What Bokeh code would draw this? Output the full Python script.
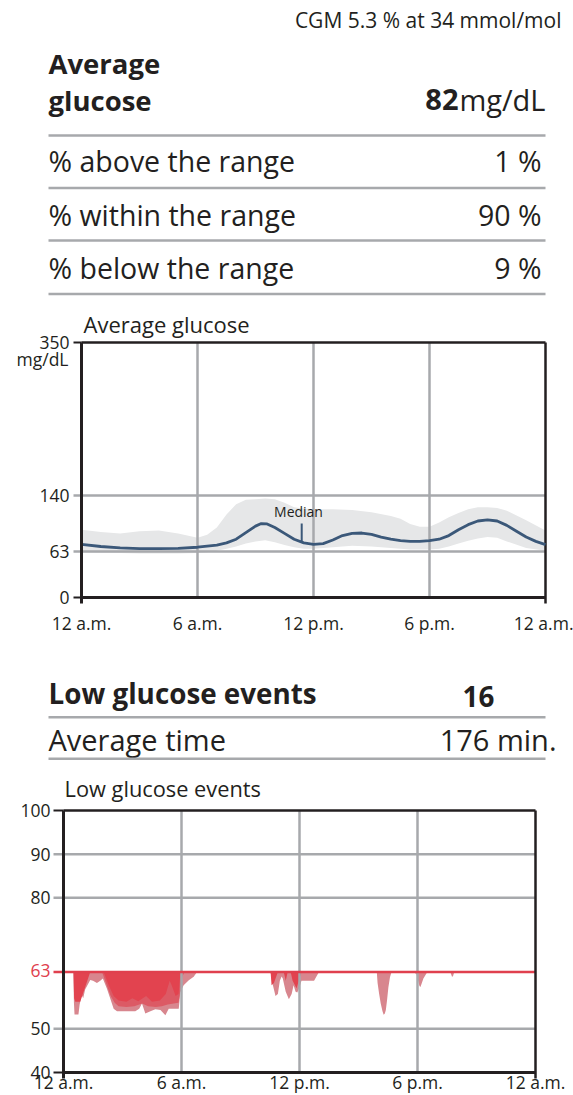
from bokeh.plotting import figure
from bokeh.models import Range1d, FixedTicker, LinearAxis
from bokeh.layouts import column
from bokeh.core.properties import value
from bokeh.embed import file_html
from bokeh.resources import INLINE

# ---------------- data ----------------
gmi_text = "CGM 5.3 % at 34 mmol/mol"
avg_glucose = 82
range_labels = ["% above the range", "% within the range", "% below the range"]
range_pcts = [1, 90, 9]
low_event_count = 16
low_avg_minutes = 176

hour_ticks = [0, 6, 12, 18, 24]
hour_labels = ["12 a.m.", "6 a.m.", "12 p.m.", "6 p.m.", "12 a.m."]
grid_hours = [6, 12, 18]

glucose_ticks = [0, 63, 140, 350]
glucose_grid = [63, 140]
glucose_ends = [0, 350]

band_hours = [0, 1, 2, 3, 4, 5, 6, 6.5, 7, 7.5, 8, 8.5, 9, 9.5, 10, 10.5, 11, 11.5, 12,
              13, 14, 15, 16, 16.5, 17, 17.5, 18, 18.5, 19, 19.5, 20, 20.5, 21, 21.5, 22, 23, 24]
band_high = [93, 90, 88, 91, 92, 88, 82, 86, 96, 114, 128, 134, 135, 136, 135, 130, 124, 122, 121,
             121, 120, 117, 112, 108, 101, 97, 97, 103, 110, 116, 121, 124, 124, 123, 119, 106, 92]
band_low = [62, 61.5, 61, 60.5, 60.5, 60.5, 61, 62, 64, 67, 70, 74, 77, 78.5, 76, 72, 69, 67, 67,
            69, 71, 70, 68, 67, 66, 66, 66, 67, 70, 74, 78, 81, 83, 82, 77, 68, 64]

median_hours = [0, 1, 2, 3, 4, 5, 6, 7, 7.5, 8, 8.5, 9, 9.3, 9.6, 10, 10.5, 11, 11.5, 12,
                12.5, 13, 13.5, 14, 14.5, 15, 15.5, 16, 16.5, 17, 17.5, 18, 18.5, 19, 19.5,
                20, 20.5, 21, 21.5, 22, 22.5, 23, 23.5, 24]
median_vals = [73, 70, 68, 67, 67, 67.5, 69, 72, 75, 80, 89, 98, 101.5, 101, 96, 88, 80, 75, 73,
               74, 79, 85, 88, 88.5, 86.5, 83, 80, 78, 77, 77, 78, 80, 85, 93,
               100, 105, 106.5, 105, 99, 91, 83, 77, 72.5]
median_marker_hour = 11.39

low_limit = 63
low_ticks = [40, 50, 80, 90, 100]
low_grid = [50, 80, 90]
low_ends = [40, 100]

light_hours = [0, 0.50, 0.53, 0.56, 0.76, 0.82, 0.92, 1.0, 1.1, 1.36, 1.5, 1.7, 1.87, 2.0, 2.21, 2.38,
               2.55, 2.72, 3.65, 3.85, 3.99, 4.16, 4.42, 4.67, 4.93, 5.18, 5.35, 5.86, 5.94, 6.11,
               6.37, 6.62, 6.79, 10.53, 10.62, 10.78, 10.9, 11.0, 11.09, 11.15, 11.3, 11.46, 11.6,
               11.7, 11.8, 11.89, 12.0, 12.1, 12.74, 12.99, 15.93, 15.97, 16.05, 16.13, 16.22,
               16.28, 16.34, 16.39, 16.45, 16.52, 16.6, 16.68, 17.8, 17.95, 18.1, 18.15, 18.3,
               18.5, 19.67, 19.75, 19.8, 19.87, 24]
light_vals = [63, 63, 56, 53.3, 53.3, 55.5, 57.8, 57, 59, 61.2, 61, 60.5, 61, 61.5, 59.2, 56.9,
              54.6, 54, 54, 54.6, 55.8, 53.5, 54, 54.5, 54.3, 53.1, 54.6, 54.6, 58.4, 60,
              61.1, 61.9, 63, 63, 60.5, 57.5, 58, 61, 62, 61.5, 58.5, 56.8, 58,
              60, 58.5, 58.3, 59.5, 61, 61, 63, 63, 60.5, 58, 55.8, 54,
              53.2, 53.5, 54.3, 56.5, 59.5, 61.8, 63, 63, 62.5, 59.8, 59.6, 61.5,
              63, 63, 62, 62, 63, 63]

mid_hours = [0, 1.96, 2.2, 2.4, 2.6, 2.8, 3.2, 3.6, 4.0, 4.3, 4.7, 5.0, 5.3, 5.6, 5.85, 5.95, 6.05, 6.15, 24]
mid_vals = [63, 63, 60, 57.5, 56, 55.2, 55, 55.2, 55.8, 55.2, 55, 55.2, 55.6, 55.8, 56, 59, 62, 63, 63]

dark_hours = [0, 0.51, 0.54, 0.6, 0.85, 1.1, 1.36, 2.04, 2.3, 2.55, 2.8, 3.2, 3.5, 3.8, 4.2, 4.5,
              4.9, 5.2, 5.4, 5.5, 5.7, 5.85, 5.95, 10.53, 10.58, 10.7, 10.9, 11.2, 11.3, 11.4,
              11.55, 11.65, 11.85, 12.0, 12.1, 24]
dark_vals = [63, 63, 57, 56.2, 56.2, 59.5, 63, 63, 60, 57.5, 56.5, 56.2, 57, 56.3, 57.5, 56.2,
             56.5, 58, 61, 60, 57.5, 58, 63, 63, 60, 60.5, 63, 63, 61, 63,
             63, 61, 59.3, 61.5, 63, 63]

# ---------------- style ----------------
FONT = value("Open Sans")
INK = "#231f20"
GRID = "#a7a9ac"
RULE = "#a7a9ac"
BAND = "#e6e7e8"
MEDIAN_C = "#3b5879"
RED = "#e0404e"
W = 573
BASE_SHIFT = 0.40   # text baseline correction (em)


def txt(p, x, y, s, size, align="left", bold=False, color=INK, fx=None, fy=None):
    px = fx(x) if fx else x
    py = fy(y - BASE_SHIFT * size) if fy else y - BASE_SHIFT * size
    p.text(x=[px], y=[py], text=[s], text_font=FONT, text_font_size=f"{size}px",
           text_font_style="bold" if bold else "normal", text_align=align,
           text_baseline="alphabetic", text_color=color)


def text_panel(h):
    p = figure(width=W, height=h, x_range=Range1d(0, W), y_range=Range1d(h, 0),
               x_axis_type=None, y_axis_type=None, output_backend="svg",
               toolbar_location=None, min_border=0, frame_align=False)
    p.outline_line_color = None
    return p


def chart_fig(top, height, left_px, right_px, ftop_px, fbot_px, x0, x1, y0, y1):
    sx = (right_px - left_px) / (x1 - x0)
    sy = (fbot_px - ftop_px) / (y1 - y0)
    xr = Range1d(x0 - left_px / sx, x1 + (W - right_px) / sx)
    yr = Range1d(y0 - (top + height - fbot_px) / sy, y1 + (ftop_px - top) / sy)
    p = figure(width=W, height=height, x_range=xr, y_range=yr,
               x_axis_type=None, y_axis_type=None, output_backend="svg",
               toolbar_location=None, min_border=0, frame_align=False)
    p.outline_line_color = None

    def fx(x):
        return x0 + (x - left_px) / sx

    def fy(y):
        return y1 - (y - ftop_px) / sy
    return p, fx, fy, sx, sy


def add_axes(p, x_at, y_at, ybounds, yticks, xstandoff, ytick_out, ystandoff):
    ya = LinearAxis(fixed_location=x_at, bounds=ybounds, ticker=FixedTicker(ticks=yticks))
    xa = LinearAxis(fixed_location=y_at, bounds=(0, 24), ticker=FixedTicker(ticks=hour_ticks))
    for ax in (xa, ya):
        ax.axis_line_color = INK
        ax.axis_line_width = 3
        ax.major_tick_line_color = INK
        ax.major_tick_line_width = 2
        ax.minor_tick_line_color = None
        ax.major_tick_in = 0
        ax.major_label_text_font = "Open Sans"
        ax.major_label_text_font_size = "17.5px"
        ax.major_label_text_color = INK
    xa.major_label_overrides = dict(zip(hour_ticks, hour_labels))
    xa.major_tick_out = 0
    xa.major_label_standoff = xstandoff
    ya.major_tick_out = ytick_out
    ya.major_tick_line_alpha = 0.0
    ya.major_label_standoff = ystandoff
    p.add_layout(ya, "left")
    p.add_layout(xa, "below")


# ---------------- header (page y 0-305) ----------------
h1 = text_panel(305)
txt(h1, 561, 28.3, gmi_text, 21, align="right")
txt(h1, 48, 73.5, "Average", 27.5, bold=True)
txt(h1, 48, 111, "glucose", 27.5, bold=True)
txt(h1, 545, 111, "mg/dL", 29, align="right")
txt(h1, 458, 111, str(avg_glucose), 29, align="right", bold=True)
row_base = [172, 225.5, 278.8]
rule_y = [135, 187.5, 240, 293.5]
for lab, pct, yb in zip(range_labels, range_pcts, row_base):
    txt(h1, 48, yb, lab, 28.5)
    txt(h1, 541, yb, f"{pct} %", 28.5, align="right")
h1.segment(x0=[48] * 4, y0=rule_y, x1=[545] * 4, y1=rule_y, line_color=RULE, line_width=2.5)

# ---------------- chart 1 (page y 305-648) ----------------
p1, fx1, fy1, sx1, sy1 = chart_fig(305, 343, 81, 545, 342, 597, 0, 24, 0, 350)
ext1 = 6 / sy1
tick1 = 8 / sx1
p1.varea(x=band_hours, y1=band_low, y2=band_high, fill_color=BAND)
p1.segment(x0=grid_hours, y0=[0] * 3, x1=grid_hours, y1=[350] * 3, line_color=GRID, line_width=2.5)
p1.segment(x0=[-tick1] * 2, y0=glucose_grid, x1=[24] * 2, y1=glucose_grid, line_color=GRID, line_width=2.5)
p1.segment(x0=[-tick1] * 2, y0=glucose_ends, x1=[0] * 2, y1=glucose_ends, line_color=INK, line_width=2)
p1.segment(x0=[0, 24], y0=[350, -ext1], x1=[24, 24], y1=[350, 350], line_color=INK, line_width=2.5)
p1.line(median_hours, median_vals, line_color=MEDIAN_C, line_width=2.8)
p1.segment(x0=[median_marker_hour], y0=[75], x1=[median_marker_hour], y1=[fy1(523)],
           line_color=MEDIAN_C, line_width=2)
add_axes(p1, 0, 0, (-ext1, 350), glucose_ticks, 13, 8, 4)
txt(p1, 298, 516.7, "Median", 14, align="center", fx=fx1, fy=fy1)
txt(p1, 83, 332.7, "Average glucose", 22, fx=fx1, fy=fy1)
txt(p1, 68, 365, "mg/dL", 17.5, align="right", fx=fx1, fy=fy1)

# ---------------- mid header (page y 648-770) ----------------
h2 = text_panel(122)
txt(h2, 48, 55.5, "Low glucose events", 27.8, bold=True)
txt(h2, 478, 59.5, str(low_event_count), 27.8, align="center", bold=True)
txt(h2, 48, 103, "Average time", 29)
txt(h2, 556, 103, f"{low_avg_minutes} min.", 29, align="right")
h2.segment(x0=[48, 48], y0=[68.7, 110.3], x1=[545, 545], y1=[68.7, 110.3],
           line_color=RULE, line_width=2.5)

# ---------------- chart 2 (page y 770-1094) ----------------
p2, fx2, fy2, sx2, sy2 = chart_fig(770, 324, 63, 535, 810, 1072, 0, 24, 40, 100)
ext2 = 6 / sy2
tick2 = 10 / sx2
p2.varea(x=light_hours, y1=light_vals, y2=low_limit, fill_color="#d8868e")
p2.varea(x=mid_hours, y1=mid_vals, y2=low_limit, fill_color="#dc5a65")
p2.varea(x=dark_hours, y1=dark_vals, y2=low_limit, fill_color="#e2434f")
p2.segment(x0=grid_hours, y0=[40] * 3, x1=grid_hours, y1=[100] * 3, line_color=GRID, line_width=2.5)
p2.segment(x0=[-tick2] * 3, y0=low_grid, x1=[24] * 3, y1=low_grid, line_color=GRID, line_width=2.5)
p2.segment(x0=[-tick2] * 2, y0=low_ends, x1=[0] * 2, y1=low_ends, line_color=INK, line_width=2)
p2.segment(x0=[-tick2], y0=[low_limit], x1=[24], y1=[low_limit], line_color=RED, line_width=2.5)
p2.segment(x0=[0, 24], y0=[100, 40 - ext2], x1=[24, 24], y1=[100, 100], line_color=INK, line_width=2.5)
add_axes(p2, 0, 40, (40 - ext2, 100), low_ticks, -3, 10, 3)
txt(p2, 64, 797, "Low glucose events", 21.8, fx=fx2, fy=fy2)
txt(p2, 50, 977, str(low_limit), 17.5, align="right", color=RED, fx=fx2, fy=fy2)

layout = column(h1, p1, h2, p2, spacing=0)
open("out.html", "w").write(file_html(layout, INLINE))
